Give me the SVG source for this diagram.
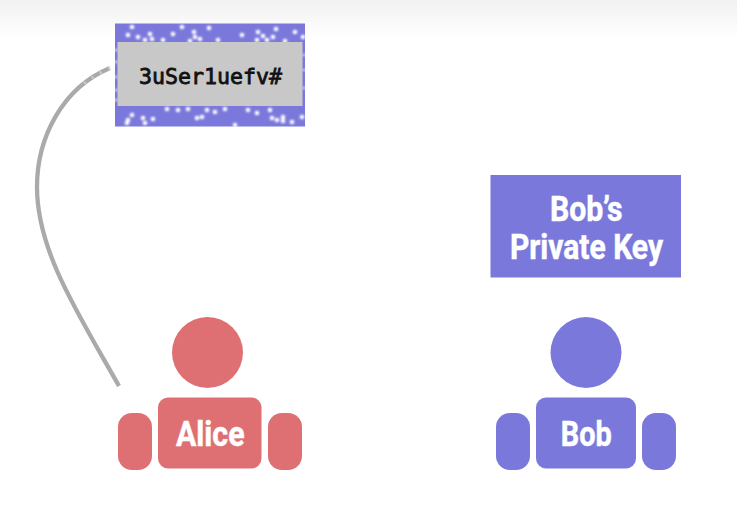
<svg xmlns="http://www.w3.org/2000/svg" width="737" height="517" viewBox="0 0 737 517">
<style>
.a{fill:#de7074}
.b{fill:#7b78dc}
.t{font-family:Roboto,"Liberation Sans",sans-serif;font-weight:700;font-size:34.500px;fill:#fff;stroke:#fff;stroke-width:.5px}
.m{font-family:"DejaVu Sans Mono","Liberation Mono",monospace;font-size:21.600px;fill:#111;stroke:#111;stroke-width:.8px}
.s{fill:#fff}
.s circle{r:2.300px}
.e circle{r:1.200px}
</style>
<defs>
<linearGradient id="top" x1="0" y1="0" x2="0" y2="1"><stop offset="0" stop-color="#f1f1f1"/><stop offset="1" stop-color="#fff"/></linearGradient>
<filter id="blur" x="-5%" y="-5%" width="110%" height="110%"><feGaussianBlur stdDeviation="0.8"/></filter>
</defs>
<rect width="737" height="517" fill="#fff"/>
<rect width="737" height="38" fill="url(#top)"/>
<g id="connectors">
<path d="M110 68C62 88 37 138 37 187C37 250 76 310 119 386" fill="none" stroke="#aaa" stroke-width="4.300"/>
<path d="M110 68C98 73 88 80 78 88" fill="none" stroke="#fff" stroke-width="3" stroke-dasharray="1.500 8" opacity=".5"/>
</g>
<g id="secret">
<rect class="b" x="115" y="23.500" width="190" height="103"/>
<g class="s" filter="url(#blur)">
<circle cx="132" cy="27"/><circle cx="128" cy="35"/><circle cx="138" cy="37"/><circle cx="150" cy="34"/><circle cx="152" cy="39"/><circle cx="145" cy="40"/><circle cx="173" cy="34"/><circle cx="163" cy="40"/><circle cx="182" cy="27"/><circle cx="194" cy="32"/><circle cx="195" cy="37"/><circle cx="200" cy="39"/><circle cx="190" cy="41"/><circle cx="209" cy="28"/><circle cx="218" cy="40"/><circle cx="242" cy="35"/><circle cx="258" cy="32"/><circle cx="263" cy="36"/><circle cx="257" cy="40"/><circle cx="276" cy="29"/><circle cx="273" cy="37"/><circle cx="267" cy="40"/><circle cx="295" cy="32"/><circle cx="285" cy="41"/><circle cx="303" cy="37"/>
<circle cx="167" cy="109"/><circle cx="178" cy="110"/><circle cx="188" cy="109"/><circle cx="197" cy="118"/><circle cx="202" cy="117"/><circle cx="207" cy="110"/><circle cx="215" cy="112"/><circle cx="225" cy="109"/><circle cx="248" cy="110"/><circle cx="257" cy="113"/><circle cx="270" cy="110"/><circle cx="272" cy="118"/><circle cx="277" cy="120"/><circle cx="283" cy="117"/><circle cx="283" cy="121"/><circle cx="292" cy="122"/><circle cx="302" cy="117"/><circle cx="132" cy="115"/><circle cx="128" cy="120"/><circle cx="127" cy="123"/><circle cx="143" cy="118"/><circle cx="153" cy="119"/><circle cx="145" cy="123"/><circle cx="235" cy="125"/>
</g>
<g class="s e" filter="url(#blur)"><circle cx="116" cy="50"/><circle cx="116" cy="62"/><circle cx="116" cy="77"/><circle cx="116" cy="90"/><circle cx="116" cy="100"/><circle cx="304" cy="55"/><circle cx="304" cy="70"/><circle cx="304" cy="88"/></g>
<rect x="117.500" y="42" width="185" height="64" fill="#c8c8c8"/>
<text class="m" x="139" y="84" textLength="143" lengthAdjust="spacingAndGlyphs">3uSer1uefv#</text>
</g>
<g id="alice">
<circle class="a" cx="207.500" cy="352.500" r="35.500"/>
<rect class="a" x="158" y="397.500" width="103.500" height="71" rx="10"/>
<rect class="a" x="118" y="413" width="34" height="57" rx="14"/>
<rect class="a" x="268" y="413" width="34" height="57" rx="14"/>
<text class="t" x="176" y="446" textLength="68.500" lengthAdjust="spacingAndGlyphs">Alice</text>
</g>
<g id="bob-key">
<rect class="b" x="490.500" y="175" width="190.500" height="102.500"/>
<text class="t" x="550" y="221" textLength="72.500" lengthAdjust="spacingAndGlyphs">Bob’s</text>
<text class="t" x="510" y="259" textLength="153" lengthAdjust="spacingAndGlyphs">Private Key</text>
</g>
<g id="bob">
<circle class="b" cx="586" cy="352.500" r="35.500"/>
<rect class="b" x="536" y="397.500" width="100" height="71" rx="10"/>
<rect class="b" x="496" y="413" width="34" height="57" rx="14"/>
<rect class="b" x="642" y="413" width="34" height="57" rx="14"/>
<text class="t" x="560.700" y="446" textLength="51" lengthAdjust="spacingAndGlyphs">Bob</text>
</g>
</svg>
